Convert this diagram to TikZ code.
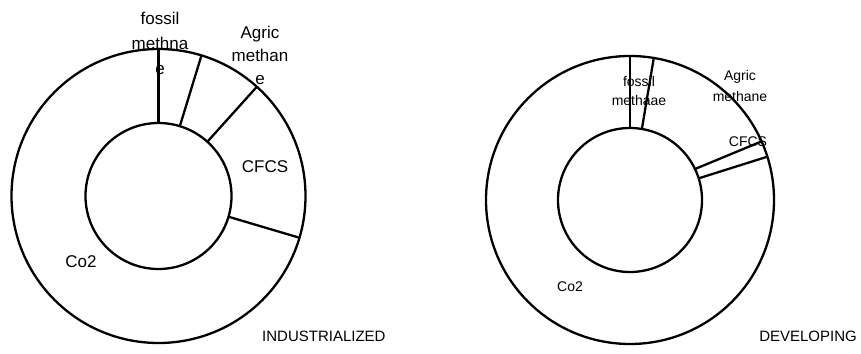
\documentclass[tikz,border=0pt]{standalone}
\usepackage{fontspec}
\setmainfont{Liberation Sans}
\begin{document}
\begin{tikzpicture}[x=1pt,y=1pt,
  ring/.style={draw=black, line width=2.3pt},
  lbl/.style={inner sep=0pt, align=center},
  bigl/.style={font=\fontsize{17}{25}\selectfont},
  bigm/.style={font=\fontsize{17}{23}\selectfont},
  smalll/.style={font=\fontsize{14}{20}\selectfont},
  titletext/.style={font=\fontsize{15}{18}\selectfont, inner sep=0pt}]
\useasboundingbox (0,0) rectangle (861,353);
% Industrialized donut
\coordinate (L) at (158.5,157);
\draw[ring] (L) circle (147);
\draw[ring] (L) circle (73);
\foreach \a in {90,73,48,-16.5}
  \draw[ring, shift={(L)}] (\a:73) -- (\a:147);
% Developing donut
\coordinate (R) at (630,153);
\draw[ring] (R) circle (144);
\draw[ring] (R) circle (72);
\draw[ring, shift={(R)}] (90:72) -- (90:144);
\draw[ring, shift={(R)}] (80.5:72) -- (80.5:144);
\draw[ring, shift={(R)}] (25.5:72) -- (24:144);
\draw[ring, shift={(R)}] (17.5:72) -- (17.5:144);
% labels left
\node[lbl,bigl] (lfossil) at (160,310) {fossil\\methna\\e};
\node[lbl,bigm] (lagric) at (260,298) {Agric\\methan\\e};
\node[lbl,bigl] (lcfcs) at (265,186) {CFCS};
\node[lbl,bigl] (lco) at (81,91) {Co2};
\node[titletext, anchor=base west] (ind) at (262,12) {INDUSTRIALIZED};
% labels right
\node[lbl,font=\fontsize{14}{19.5}\selectfont] (rfossil) at (639,262) {fossil\\methaae};
\node[lbl,font=\fontsize{14}{21}\selectfont] (ragric) at (740,266.5) {Agric\\methane};
\node[lbl,smalll] (rcfcs) at (748,211) {CFCS};
\node[lbl,smalll] (rco) at (570,66) {Co2};
\node[titletext, anchor=base east] (dev) at (857,12) {DEVELOPING};
\end{tikzpicture}
\end{document}
